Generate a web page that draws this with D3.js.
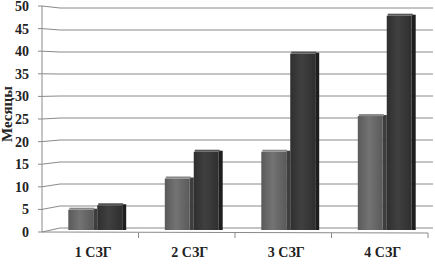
<!DOCTYPE html>
<html lang="ru">
<head>
<meta charset="utf-8">
<title>Месяцы по группам</title>
<script src="https://cdn.jsdelivr.net/npm/d3@7"></script>
<style>
  body { margin: 0; background: #fff; }
  text { font-family: "Liberation Serif", "Times New Roman", serif; font-weight: bold; fill: #222; }
</style>
</head>
<body>
<svg width="435" height="265"></svg>
<script>
// data
var categories = ["1 СЗГ", "2 СЗГ", "3 СЗГ", "4 СЗГ"];
var series = ["a", "b"];
var valuesA = [5, 12, 18, 26];
var valuesB = [6, 18, 40, 48.5];
var yTicks = [0, 5, 10, 15, 20, 25, 30, 35, 40, 45, 50];

var svg = d3.select("svg");

// front edge (axis) and back wall scales, a bit of fake 3d
var yFront = d3.scaleLinear().domain([0, 50]).range([232, 6]);
var yBack = d3.scaleLinear().domain([0, 50]).range([228, 8]);
var axisX = 42, wallX = 60, wallRight = 433;

var x = d3.scaleBand().domain(categories).range([49, 435]).paddingInner(0.4).paddingOuter(0.2);
var xs = d3.scaleBand().domain(series).range([0, x.bandwidth()]);

// gridlines: slant from the axis to the back wall, then across
svg.append("g").selectAll("path")
    .data(yTicks)
  .enter().append("path")
    .attr("d", function(d) {
      return "M" + axisX + "," + yFront(d) + "L" + wallX + "," + yBack(d) + "L" + wallRight + "," + yBack(d);
    })
    .attr("fill", "none")
    .attr("stroke", "#8a8a8a")
    .attr("stroke-width", 1);

// y axis
svg.append("line")
    .attr("x1", axisX).attr("x2", axisX)
    .attr("y1", yFront(50)).attr("y2", yFront(0))
    .attr("stroke", "#8a8a8a");

svg.append("g").selectAll("line")
    .data(yTicks)
  .enter().append("line")
    .attr("x1", axisX - 4).attr("x2", axisX)
    .attr("y1", function(d) { return yFront(d); })
    .attr("y2", function(d) { return yFront(d); })
    .attr("stroke", "#8a8a8a");

svg.append("g").selectAll("text")
    .data(yTicks)
  .enter().append("text")
    .attr("x", 29)
    .attr("y", function(d) { return yFront(d) + 5; })
    .attr("text-anchor", "end")
    .attr("font-size", 14)
    .text(function(d) { return d; });

// y title
svg.append("text")
    .attr("transform", "translate(12,114) rotate(-90)")
    .attr("text-anchor", "middle")
    .attr("font-size", 15)
    .text("Месяцы");

// floor front edge and ticks
var edges = [x.range()[0] - 7].concat(categories.map(function(c) { return x(c) - x.step() * x.paddingInner() / 2 - 7 + x.step(); }));
svg.append("line")
    .attr("x1", axisX).attr("x2", 428)
    .attr("y1", 232).attr("y2", 233)
    .attr("stroke", "#8a8a8a");
svg.append("g").selectAll("line")
    .data(edges.slice(1))
  .enter().append("line")
    .attr("x1", function(d) { return d; }).attr("x2", function(d) { return d; })
    .attr("y1", 233).attr("y2", 238)
    .attr("stroke", "#8a8a8a");

// gradients
var defs = svg.append("defs");
function grad(id, edge, mid) {
  var g = defs.append("linearGradient").attr("id", id).attr("x1", "0").attr("x2", "1").attr("y1", "0").attr("y2", "0");
  g.append("stop").attr("offset", "0").attr("stop-color", edge);
  g.append("stop").attr("offset", "0.45").attr("stop-color", mid);
  g.append("stop").attr("offset", "1").attr("stop-color", edge);
}
grad("ga", "#5a5a5a", "#737373");
grad("gb", "#2f2f2f", "#404040");

var barData = [];
categories.forEach(function(c, i) {
  barData.push({cat: c, s: "a", v: valuesA[i]});
  barData.push({cat: c, s: "b", v: valuesB[i]});
});

var bars = svg.append("g").selectAll("g")
    .data(barData)
  .enter().append("g");

var yBar = d3.scaleLinear().domain([0, 50]).range([230, 7]);

// side face
bars.append("rect")
    .attr("x", function(d) { return x(d.cat) + xs(d.s) + xs.bandwidth() - 4; })
    .attr("y", function(d) { return yBar(d.v) + 1; })
    .attr("width", 4)
    .attr("height", function(d) { return yBar(0) - yBar(d.v) - 1; })
    .attr("fill", function(d) { return d.s === "a" ? "#3e3e3e" : "#1e1e1e"; });

// front face
bars.append("rect")
    .attr("x", function(d) { return x(d.cat) + xs(d.s); })
    .attr("y", function(d) { return yBar(d.v) + 2; })
    .attr("width", xs.bandwidth() - 4)
    .attr("height", function(d) { return yBar(0) - yBar(d.v) - 2; })
    .attr("fill", function(d) { return d.s === "a" ? "url(#ga)" : "url(#gb)"; });

// top face
bars.append("rect")
    .attr("x", function(d) { return x(d.cat) + xs(d.s) + 1; })
    .attr("y", function(d) { return yBar(d.v); })
    .attr("width", xs.bandwidth() - 4)
    .attr("height", 2)
    .attr("fill", function(d) { return d.s === "a" ? "#888" : "#555"; });

// category labels
svg.append("g").selectAll("text")
    .data(categories)
  .enter().append("text")
    .attr("x", function(d) { return x(d) + x.bandwidth() / 2 - 4; })
    .attr("y", 257)
    .attr("text-anchor", "middle")
    .attr("font-size", 14)
    .text(function(d) { return d; });
</script>
</body>
</html>
